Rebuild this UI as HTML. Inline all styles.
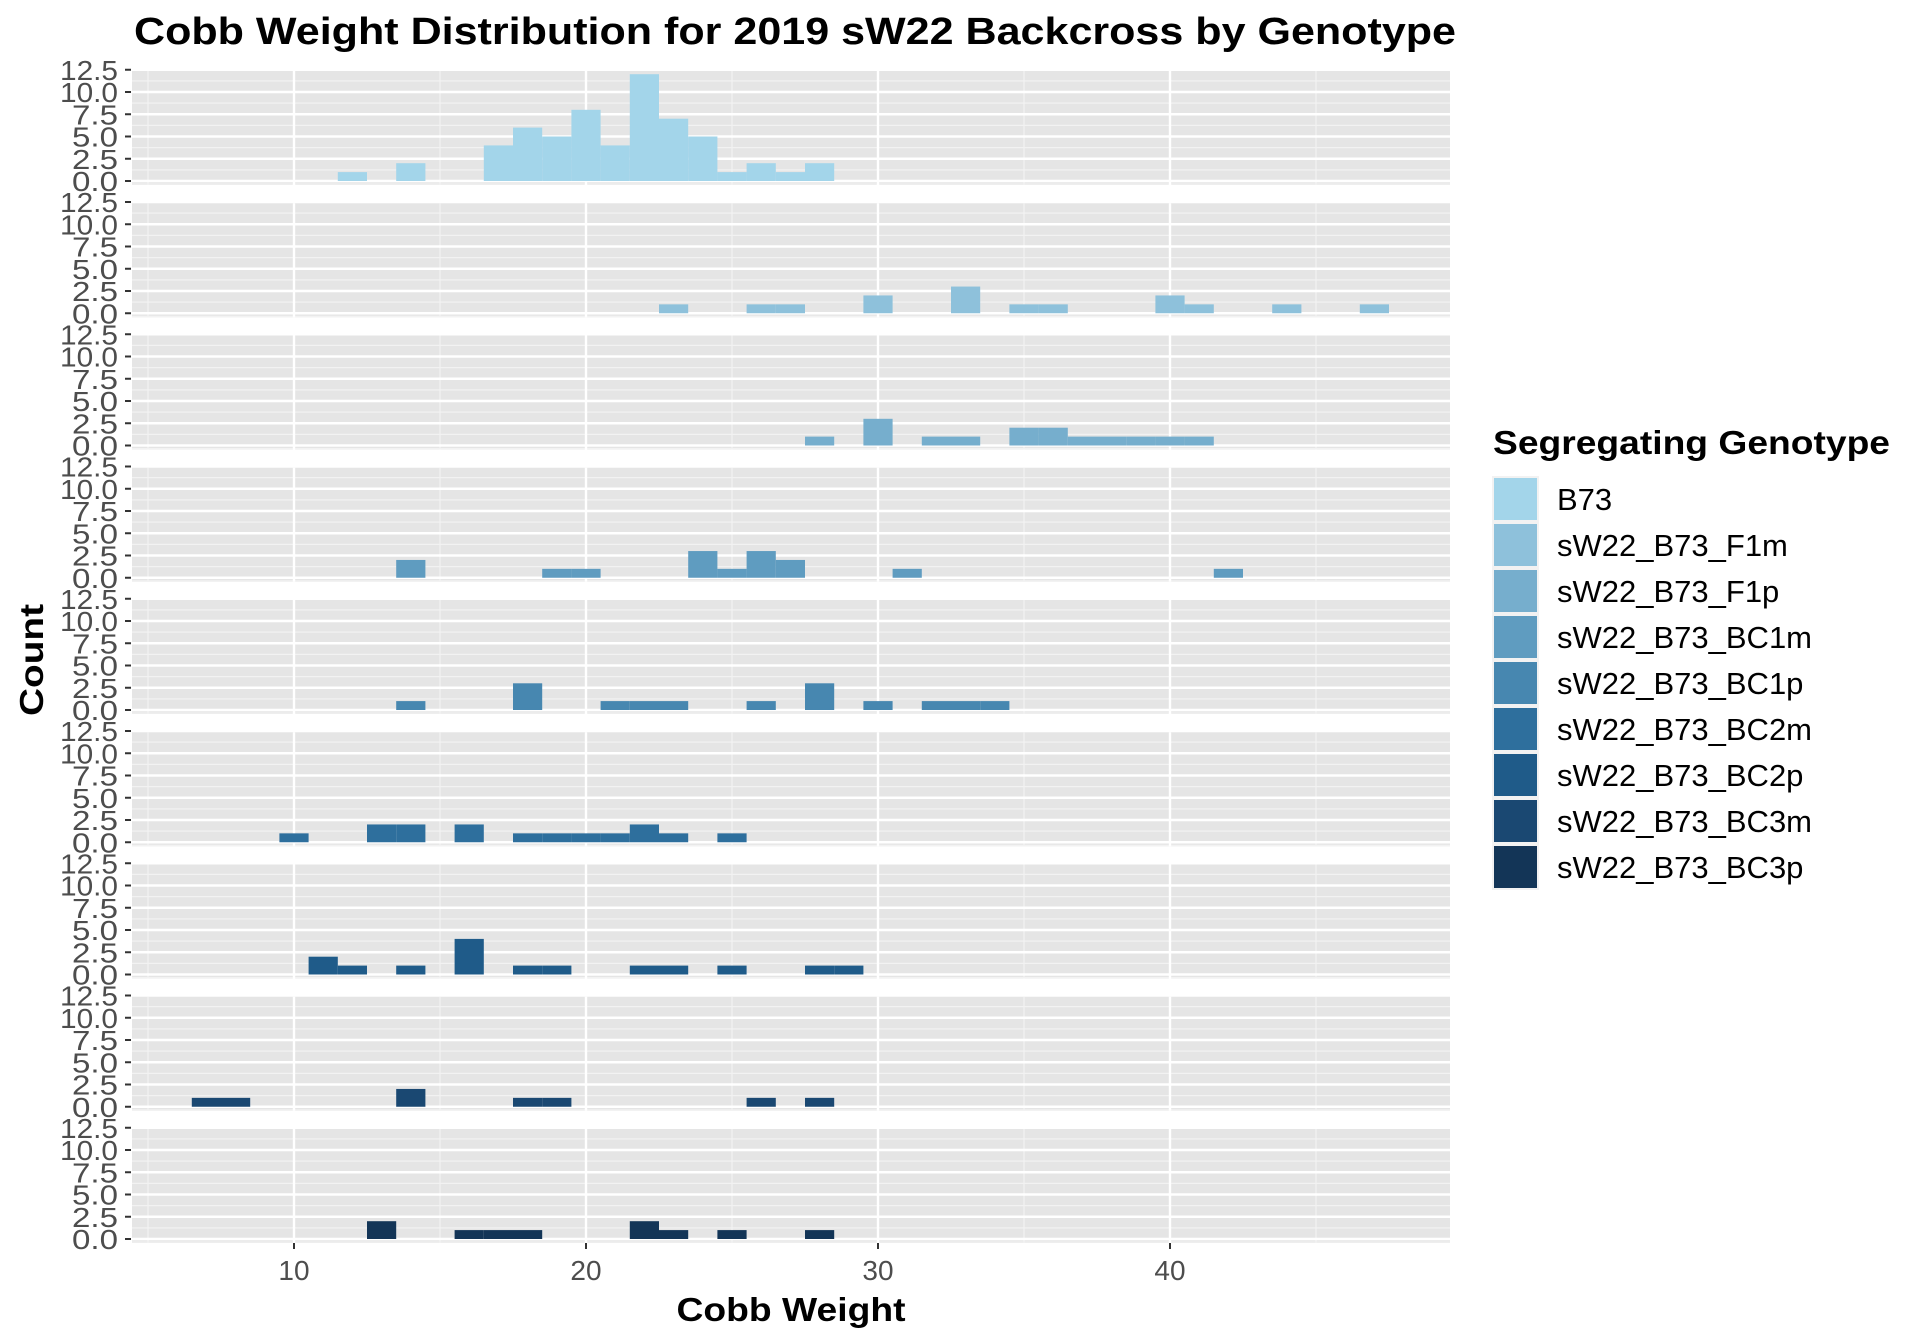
<!DOCTYPE html>
<html><head><meta charset="utf-8"><style>
html,body{margin:0;padding:0;background:#fff;}
svg{display:block;font-family:"Liberation Sans",Arial,sans-serif;}
</style></head><body>
<svg id="chart" width="1920" height="1344" viewBox="0 0 1920 1344"></svg>
<script>
const genotypes = ["B73","sW22_B73_F1m","sW22_B73_F1p","sW22_B73_BC1m","sW22_B73_BC1p","sW22_B73_BC2m","sW22_B73_BC2p","sW22_B73_BC3m","sW22_B73_BC3p"];
const colors = ["#a3d5ea","#8ec1db","#76aecd","#5f9cc0","#4787b0","#2e6f9d","#1f5b89","#1a4872","#133557"];
// bin centers and counts per genotype
const binsB73 = [12,14,17,18,19,20,21,22,23,24,25,26,27,28];
const countsB73 = [1,2,4,6,5,8,4,12,7,5,1,2,1,2];
const binsF1m = [23,26,27,30,33,35,36,40,41,44,47];
const countsF1m = [1,1,1,2,3,1,1,2,1,1,1];
const binsF1p = [28,30,32,33,35,36,37,38,39,40,41];
const countsF1p = [1,3,1,1,2,2,1,1,1,1,1];
const binsBC1m = [14,19,20,24,25,26,27,31,42];
const countsBC1m = [2,1,1,3,1,3,2,1,1];
const binsBC1p = [14,18,21,22,23,26,28,30,32,33,34];
const countsBC1p = [1,3,1,1,1,1,3,1,1,1,1];
const binsBC2m = [10,13,14,16,18,19,20,21,22,23,25];
const countsBC2m = [1,2,2,2,1,1,1,1,2,1,1];
const binsBC2p = [11,12,14,16,18,19,22,23,25,28,29];
const countsBC2p = [2,1,1,4,1,1,1,1,1,1,1];
const binsBC3m = [7,8,14,18,19,26,28];
const countsBC3m = [1,1,2,1,1,1,1];
const binsBC3p = [13,16,17,18,22,23,25,28];
const countsBC3p = [2,1,1,1,2,1,1,1];
const allBins = [binsB73,binsF1m,binsF1p,binsBC1m,binsBC1p,binsBC2m,binsBC2p,binsBC3m,binsBC3p];
const allCounts = [countsB73,countsF1m,countsF1p,countsBC1m,countsBC1p,countsBC2m,countsBC2p,countsBC3m,countsBC3p];
const yTicks = [0,2.5,5,7.5,10,12.5];
const yTickLabels = ["0.0","2.5","5.0","7.5","10.0","12.5"];
const xTicks = [10,20,30,40];
const xMinor = [5,15,25,35,45];

const NS="http://www.w3.org/2000/svg";
const svg=document.getElementById('chart');
function mk(tag,attrs,parent){const e=document.createElementNS(NS,tag);for(const k in attrs)e.setAttribute(k,attrs[k]);(parent||svg).appendChild(e);return e;}
const PL=132,PR=1450,BGH=114,PITCH=132.25,TOP0=71;
function xs(v){return 2+v*29.2;}
function ys(i,v){return TOP0+i*PITCH+110-v*8.9;}

genotypes.forEach((g,i)=>{
  const top=TOP0+i*PITCH;
  const grp=mk('g',{});
  
  
  const bg=mk('rect',{x:PL,y:top,width:PR-PL,height:BGH,fill:'#e5e5e5'},grp);
  
  
  for(let k=0;k<yTicks.length-1;k++){const v=(yTicks[k]+yTicks[k+1])/2;const y=ys(i,v);mk('line',{x1:PL,x2:PR,y1:y,y2:y,stroke:'#f2f2f2','stroke-width':1.2},grp);}
  mk('line',{x1:PL,x2:PR,y1:ys(i,-0.35),y2:ys(i,-0.35),stroke:'#f2f2f2','stroke-width':1.2},grp);
  xMinor.forEach(v=>{mk('line',{x1:xs(v),x2:xs(v),y1:top,y2:top+BGH,stroke:'#f2f2f2','stroke-width':1.2},grp);});
  yTicks.forEach(v=>{const y=ys(i,v);if(y>top)mk('line',{x1:PL,x2:PR,y1:y,y2:y,stroke:'#fff','stroke-width':2.4},grp);});
  xTicks.forEach(v=>{mk('line',{x1:xs(v),x2:xs(v),y1:top,y2:top+BGH,stroke:'#fff','stroke-width':2.4},grp);});
  const bins=allBins[i],counts=allCounts[i];
  bins.forEach((b,j)=>{
    const r=mk('rect',{x:xs(b-0.5),y:ys(i,counts[j]),width:xs(b+0.5)-xs(b-0.5),height:ys(i,0)-ys(i,counts[j]),fill:colors[i]},grp);
    
    
  });
  yTicks.forEach((v,k)=>{
    const y=ys(i,v);
    mk('line',{x1:125,x2:131,y1:y,y2:y,stroke:'#333','stroke-width':2},grp);
    const t=mk('text',{x:118,y:y+10,'text-anchor':'end','font-size':28,fill:'#4d4d4d',textLength:yTickLabels[k].length>3?58:46,lengthAdjust:'spacingAndGlyphs'},grp);
    t.textContent=yTickLabels[k];
    
    
  });
});
const bottom=TOP0+8*PITCH+BGH;
xTicks.forEach(v=>{
  mk('line',{x1:xs(v),x2:xs(v),y1:bottom,y2:bottom+6,stroke:'#333','stroke-width':2});
  const t=mk('text',{x:xs(v),y:1280,'text-anchor':'middle','font-size':28,fill:'#4d4d4d'});
  t.textContent=v;
  
  
});
</script>
<div style="position:absolute;left:0;top:0;width:1920px;height:1344px;pointer-events:none;">
<svg width="1920" height="1344" style="position:absolute;left:0;top:0;font-family:'Liberation Sans',Arial,sans-serif;">
  <text x="795" y="44" text-anchor="middle" font-size="38" font-weight="bold" fill="#000" textLength="1322" lengthAdjust="spacingAndGlyphs">Cobb Weight Distribution for 2019 sW22 Backcross by Genotype</text>
  <text x="791" y="1321" text-anchor="middle" font-size="33" font-weight="bold" fill="#000" textLength="229" lengthAdjust="spacingAndGlyphs">Cobb Weight</text>
  <text x="0" y="0" transform="translate(43,660) rotate(-90)" text-anchor="middle" font-size="33" font-weight="bold" fill="#000" textLength="112" lengthAdjust="spacingAndGlyphs">Count</text>
  <text x="1493" y="454" font-size="33" font-weight="bold" fill="#000" textLength="397" lengthAdjust="spacingAndGlyphs">Segregating Genotype</text>
  <g id="legend"></g>
</svg>
</div>
<script>
const lg=document.getElementById('legend');
genotypes.forEach((g,i)=>{
  const y=476+i*46;
  const e=document.createElementNS(NS,'g');
  
  
  const bgk=document.createElementNS(NS,'rect');
  bgk.setAttribute('x',1492);bgk.setAttribute('y',y);bgk.setAttribute('width',47);bgk.setAttribute('height',46);bgk.setAttribute('fill','#f2f2f2');
  e.appendChild(bgk);
  const r=document.createElementNS(NS,'rect');
  r.setAttribute('x',1494);r.setAttribute('y',y+2);r.setAttribute('width',43);r.setAttribute('height',42);r.setAttribute('fill',colors[i]);
  e.appendChild(r);
  const t=document.createElementNS(NS,'text');
  t.setAttribute('x',1557);t.setAttribute('y',y+34);t.setAttribute('font-size',31);t.setAttribute('fill','#000');
  t.textContent=g;
  e.appendChild(t);
  lg.appendChild(e);
});
</script>
</body></html>
